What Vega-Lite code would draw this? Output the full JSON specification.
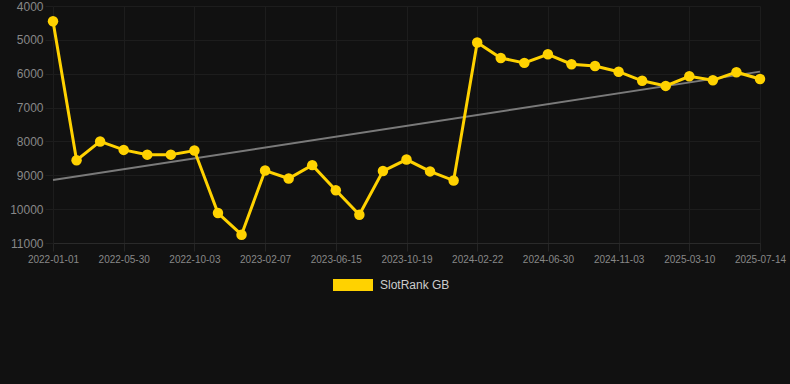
{
  "$schema": "https://vega.github.io/schema/vega-lite/v6.json",
  "width": 707,
  "height": 237,
  "autosize": {"type": "none"},
  "padding": {"left": 53, "top": 6, "right": 30, "bottom": 141},
  "background": "#111111",
  "config": {"view": {"stroke": null}, "font": "Liberation Sans"},
  "datasets": {
    "rank": [
      {"date": "2022-01-01", "rank": 4450, "series": "SlotRank GB"},
      {"date": "2022-02-19", "rank": 8555, "series": "SlotRank GB"},
      {"date": "2022-04-10", "rank": 8000, "series": "SlotRank GB"},
      {"date": "2022-05-30", "rank": 8250, "series": "SlotRank GB"},
      {"date": "2022-07-11", "rank": 8390, "series": "SlotRank GB"},
      {"date": "2022-08-22", "rank": 8390, "series": "SlotRank GB"},
      {"date": "2022-10-03", "rank": 8270, "series": "SlotRank GB"},
      {"date": "2022-11-14", "rank": 10115, "series": "SlotRank GB"},
      {"date": "2022-12-26", "rank": 10755, "series": "SlotRank GB"},
      {"date": "2023-02-07", "rank": 8860, "series": "SlotRank GB"},
      {"date": "2023-03-21", "rank": 9095, "series": "SlotRank GB"},
      {"date": "2023-05-03", "rank": 8700, "series": "SlotRank GB"},
      {"date": "2023-06-15", "rank": 9440, "series": "SlotRank GB"},
      {"date": "2023-07-27", "rank": 10165, "series": "SlotRank GB"},
      {"date": "2023-09-07", "rank": 8875, "series": "SlotRank GB"},
      {"date": "2023-10-19", "rank": 8535, "series": "SlotRank GB"},
      {"date": "2023-11-30", "rank": 8885, "series": "SlotRank GB"},
      {"date": "2024-01-11", "rank": 9155, "series": "SlotRank GB"},
      {"date": "2024-02-22", "rank": 5080, "series": "SlotRank GB"},
      {"date": "2024-04-04", "rank": 5535, "series": "SlotRank GB"},
      {"date": "2024-05-17", "rank": 5680, "series": "SlotRank GB"},
      {"date": "2024-06-30", "rank": 5425, "series": "SlotRank GB"},
      {"date": "2024-08-11", "rank": 5720, "series": "SlotRank GB"},
      {"date": "2024-09-22", "rank": 5770, "series": "SlotRank GB"},
      {"date": "2024-11-03", "rank": 5940, "series": "SlotRank GB"},
      {"date": "2024-12-15", "rank": 6210, "series": "SlotRank GB"},
      {"date": "2025-01-26", "rank": 6360, "series": "SlotRank GB"},
      {"date": "2025-03-10", "rank": 6075, "series": "SlotRank GB"},
      {"date": "2025-04-21", "rank": 6195, "series": "SlotRank GB"},
      {"date": "2025-06-02", "rank": 5955, "series": "SlotRank GB"},
      {"date": "2025-07-14", "rank": 6155, "series": "SlotRank GB"}
    ],
    "trend": [
      {"date": "2022-01-01", "rank": 9142},
      {"date": "2025-07-14", "rank": 5938}
    ]
  },
  "encoding": {
    "x": {
      "field": "date",
      "type": "ordinal",
      "scale": {"type": "point", "padding": 0},
      "axis": {
        "title": null,
        "labelAngle": 0,
        "labelColor": "#888888",
        "labelFontSize": 10,
        "gridColor": "#1d1d1d",
        "grid": true,
        "tickColor": "#242424",
        "tickSize": 8,
        "labelPadding": 3,
        "domain": true,
        "domainColor": "#2a2a2a",
        "values": ["2022-01-01", "2022-05-30", "2022-10-03", "2023-02-07", "2023-06-15", "2023-10-19", "2024-02-22", "2024-06-30", "2024-11-03", "2025-03-10", "2025-07-14"]
      }
    },
    "y": {
      "field": "rank",
      "type": "quantitative",
      "scale": {"domain": [4000, 11000], "reverse": true, "nice": false, "zero": false},
      "axis": {
        "title": null,
        "values": [4000, 5000, 6000, 7000, 8000, 9000, 10000, 11000],
        "format": "d",
        "labelColor": "#888888",
        "labelFontSize": 12,
        "gridColor": "#1d1d1d",
        "tickColor": "#1d1d1d",
        "tickSize": 8,
        "labelPadding": 2,
        "domain": false
      }
    }
  },
  "layer": [
    {
      "data": {"name": "trend"},
      "mark": {"type": "line", "color": "#7a7a7a", "strokeWidth": 2}
    },
    {
      "data": {"name": "rank"},
      "mark": {"type": "line", "color": "#ffd200", "strokeWidth": 3}
    },
    {
      "data": {"name": "rank"},
      "mark": {"type": "circle", "size": 110, "opacity": 1},
      "encoding": {
        "color": {
          "field": "series",
          "type": "nominal",
          "scale": {"range": ["#ffd200"]},
          "legend": {
            "title": null,
            "orient": "none",
            "legendX": 279,
            "legendY": 258,
            "symbolType": "M-1,-0.3H1V0.3H-1Z",
            "symbolSize": 1600,
            "symbolOpacity": 1,
            "labelColor": "#cccccc",
            "labelFontSize": 12,
            "labelOffset": 6
          }
        }
      }
    }
  ]
}
